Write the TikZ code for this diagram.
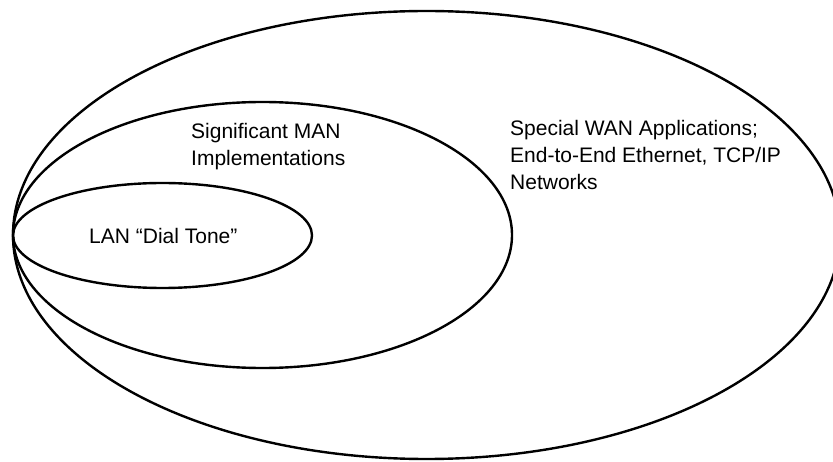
\documentclass[tikz,border=0pt]{standalone}
\usepackage{fontspec}
\setmainfont{Liberation Sans}
\usetikzlibrary{positioning}

\begin{document}
\begin{tikzpicture}[x=1pt,y=-1pt,line width=2.4pt,
  lbl/.style={anchor=base west,inner sep=0pt,align=left,
    font=\fontsize{21}{27}\selectfont}]
  \useasboundingbox (0,0) rectangle (833,462);
  \clip (0,0) rectangle (833,462);
  % nested ellipses, all touching at the left
  \draw (426.5,235) ellipse [x radius=413.5pt,y radius=224pt];
  \draw (262.5,235) ellipse [x radius=249.5pt,y radius=133pt];
  \draw (162.5,235.5) ellipse [x radius=149.5pt,y radius=52.5pt];
  \node[lbl] (lan) at (88,244) {LAN “Dial Tone”};
  \node[lbl] (man) at (190,166) {Significant MAN\\Implementations};
  \node[lbl] (wan) at (509,190) {Special WAN Applications;\\End-to-End Ethernet, TCP/IP\\Networks};
\end{tikzpicture}
\end{document}
